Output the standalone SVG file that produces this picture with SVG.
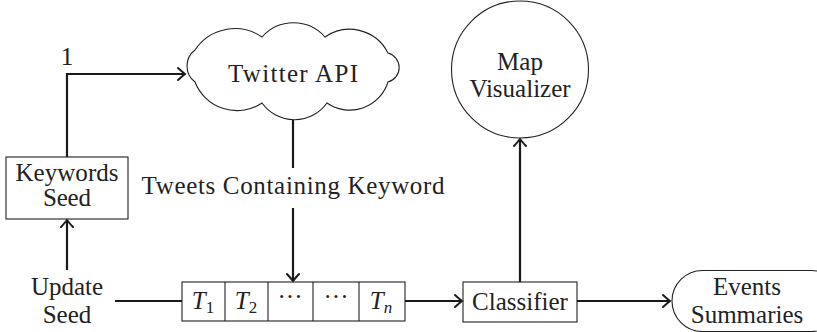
<svg xmlns="http://www.w3.org/2000/svg" width="817" height="332" viewBox="0 0 817 332">
<style>
  .t { font-family: "Liberation Serif", "DejaVu Serif", serif; font-size: 25px; fill: #222; text-anchor: middle; }
  .node { fill: none; stroke: #222; stroke-width: 1.1; }
  .edge { fill: none; stroke: #1a1a1a; stroke-width: 2.2; }
  .m { font-family: "Liberation Serif", "DejaVu Serif", serif; font-style: italic; font-size: 25px; fill: #222; text-anchor: middle; }
</style>
<defs>
  <marker id="arr" markerUnits="userSpaceOnUse" viewBox="-10 -8 12 16" refX="0" refY="0" markerWidth="12" markerHeight="16" orient="auto">
    <path d="M -7 -6 Q -2 -1.5 0 0 Q -2 1.5 -7 6" fill="none" stroke="#1a1a1a" stroke-width="2" stroke-linecap="round"/>
  </marker>
</defs>
<rect width="817" height="332" fill="#fff"/>

<g id="connectors">
  <path class="edge" d="M 67 157 L 67 74 L 185 74" marker-end="url(#arr)"/>
  <path class="edge" d="M 293 120 L 293 168"/>
  <path class="edge" d="M 293 208 L 293 281" marker-end="url(#arr)"/>
  <path class="edge" d="M 67 270 L 67 220" marker-end="url(#arr)"/>
  <path class="edge" d="M 115 301 L 182 301"/>
  <path class="edge" d="M 405 301 L 462 301" marker-end="url(#arr)"/>
  <path class="edge" d="M 520 282 L 520 139" marker-end="url(#arr)"/>
  <path class="edge" d="M 577 301 L 670 301" marker-end="url(#arr)"/>
  <text class="t" x="67" y="65">1</text>
  <text class="t" x="293" y="194" textLength="303" lengthAdjust="spacing">Tweets Containing Keyword</text>
</g>

<g id="keywords-seed">
  <rect class="node" x="6" y="157" width="122" height="62"/>
  <text class="t" x="67" y="181" font-size="22" textLength="103" lengthAdjust="spacing">Keywords</text>
  <text class="t" x="67" y="206" font-size="22" textLength="48" lengthAdjust="spacing">Seed</text>
</g>

<g id="twitter-api">
  <path class="node" d="M 195 50 A 48 48 0 0 1 262 37 A 42 42 0 0 1 325 37 A 43 43 0 0 1 388 53 A 15 15 0 0 1 388 82 A 40 40 0 0 1 327 103 A 40 40 0 0 1 262 103 A 45 45 0 0 1 195 82 A 20 20 0 0 1 195 50 Z"/>
  <text class="t" x="293" y="82" font-size="26" textLength="130" lengthAdjust="spacing">Twitter API</text>
</g>

<g id="update-seed">
  <text class="t" x="67" y="295">Update</text>
  <text class="t" x="67" y="323">Seed</text>
</g>

<g id="queue">
  <rect class="node" x="182" y="282" width="223" height="39"/>
  <line class="node" x1="225" y1="282" x2="225" y2="321"/>
  <line class="node" x1="268" y1="282" x2="268" y2="321"/>
  <line class="node" x1="313" y1="282" x2="313" y2="321"/>
  <line class="node" x1="359" y1="282" x2="359" y2="321"/>
  <text class="m" x="203" y="309">T<tspan font-style="normal" font-size="17" dy="4">1</tspan></text>
  <text class="m" x="246" y="309">T<tspan font-style="normal" font-size="17" dy="4">2</tspan></text>
  <text class="t" x="290" y="305">···</text>
  <text class="t" x="336" y="305">···</text>
  <text class="m" x="381" y="309">T<tspan font-size="17" dy="4">n</tspan></text>
</g>

<g id="classifier">
  <rect class="node" x="463" y="282" width="114" height="40"/>
  <text class="t" x="520" y="310">Classifier</text>
</g>

<g id="map-visualizer">
  <circle class="node" cx="520" cy="69.5" r="68.5"/>
  <text class="t" x="520" y="70">Map</text>
  <text class="t" x="520" y="97">Visualizer</text>
</g>

<g id="events-summaries">
  <rect class="node" x="672" y="270.5" width="170" height="61" rx="30.5" ry="30.5"/>
  <text class="t" x="747" y="295">Events</text>
  <text class="t" x="747" y="323">Summaries</text>
</g>
</svg>
